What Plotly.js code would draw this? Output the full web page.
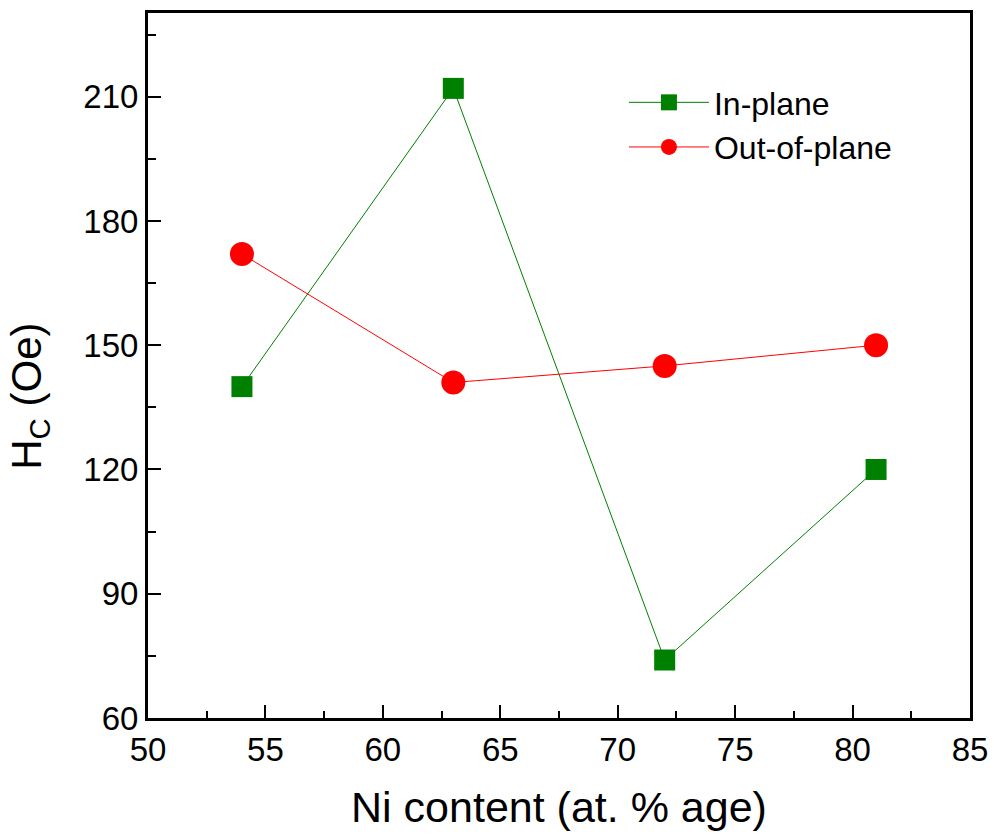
<!DOCTYPE html>
<html><head><meta charset="utf-8">
<script src="https://cdn.plot.ly/plotly-3.0.1.min.js"></script>
<style>body{margin:0;background:#fff}#c{width:994px;height:835px}</style>
</head><body><div id="c"></div>
<script>
const niContent = [54, 63, 72, 81];
const inPlane = [140, 212, 74, 120];
const outOfPlane = [172, 141, 145, 150];
const seriesNames = ["In-plane", "Out-of-plane"];
const xTitle = "Ni content (at. % age)";
const yTitle = "H<sub>C</sub> (Oe)";

const FONT = "Arial, Liberation Sans, sans-serif";
const traces = [
  {x: niContent, y: inPlane, name: seriesNames[0], mode: "lines+markers",
   line: {color: "#008000", width: 1}, marker: {symbol: "square", size: 21, color: "#008000"}},
  {x: niContent, y: outOfPlane, name: seriesNames[1], mode: "lines+markers",
   line: {color: "#ff0000", width: 1}, marker: {symbol: "circle", size: 24, color: "#ff0000"}}
];
const axisCommon = {showline: true, linewidth: 3, linecolor: "#000", mirror: true,
  ticks: "inside", ticklen: 13, tickwidth: 2, tickcolor: "#000", showgrid: false, zeroline: false,
  tickfont: {family: FONT, size: 33, color: "#000"}};
const layout = {
  width: 994, height: 835,
  margin: {l: 148, r: 24, t: 13, b: 117},
  paper_bgcolor: "#fff", plot_bgcolor: "#fff",
  font: {family: FONT, color: "#000"},
  xaxis: Object.assign({}, axisCommon, {range: [50, 85], dtick: 5, tick0: 50,
    minor: {dtick: 2.5, ticks: "inside", ticklen: 7, tickwidth: 2, tickcolor: "#000"},
    title: {text: xTitle, font: {family: FONT, size: 43, color: "#000"}, standoff: 26}}),
  yaxis: Object.assign({}, axisCommon, {range: [60, 230.2], dtick: 30, tick0: 60,
    minor: {dtick: 15, ticks: "inside", ticklen: 8, tickwidth: 2, tickcolor: "#000"}}),
  annotations: [{text: yTitle, xref: "paper", yref: "paper", x: -0.1436, y: 0.457,
    xanchor: "center", yanchor: "middle", textangle: -90, showarrow: false,
    font: {family: FONT, size: 42, color: "#000"}}],
  legend: {x: 0.579, y: 0.912, xanchor: "left", yanchor: "top", bgcolor: "rgba(0,0,0,0)",
    font: {size: 32, family: FONT, color: "#000"}, itemwidth: 80, tracegroupgap: 0},
  showlegend: true
};
Plotly.newPlot("c", traces, layout, {displayModeBar: false, staticPlot: true});
</script></body></html>
